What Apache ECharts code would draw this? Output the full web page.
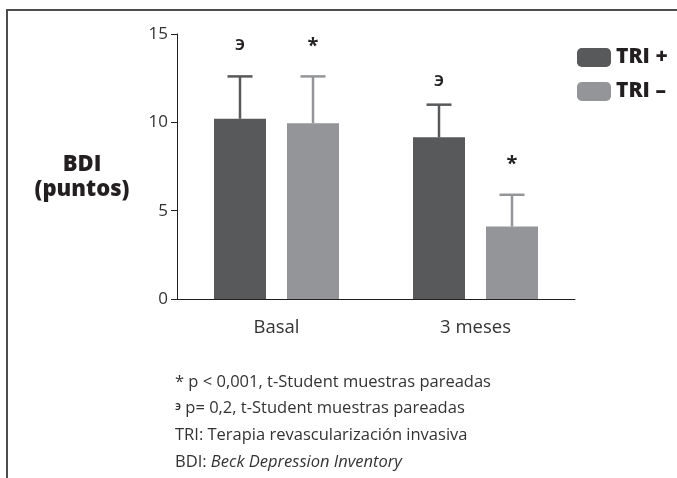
<!DOCTYPE html>
<html>
<head>
<meta charset="utf-8">
<script src="https://cdn.jsdelivr.net/npm/echarts@6/dist/echarts.min.js"></script>
<style>
html,body{margin:0;padding:0;background:#fff;}
#c{width:677px;height:478px;}
</style>
</head>
<body>
<div id="c"></div>
<script>
// ---- data ----
const categories = ['Basal', '3 meses'];
const seriesNames = ['TRI +', 'TRI –'];
const triPlus = [10.2, 9.15];
const triMinus = [9.95, 4.1];
const triPlusErr = [12.6, 11.0];
const triMinusErr = [12.6, 5.9];
const triPlusMarks = ['э', 'э'];
const triMinusMarks = ['*', '*'];
const triPlusMarkLevel = [14.4, 12.4];
const triMinusMarkLevel = [14.3, 7.6];
const yTicks = [0, 5, 10, 15];
const footnotes = [
  '{a|* p < 0,001, t-Student muestras pareadas}',
  '{s|э}{a| p= 0,2, t-Student muestras pareadas}',
  '{a|TRI: Terapia revascularización invasiva}',
  '{a|BDI: }{b|Beck Depression Inventory}'
];

// ---- style ----
const colors = ['#58595b', '#939598'];
const FONT = '"Open Sans", "Noto Sans", sans-serif';
const BAR_W = 52, BAR_GAP = 21;
const offsets = [-(BAR_W + BAR_GAP) / 2, (BAR_W + BAR_GAP) / 2];

function errSeries(vals, errs, idx) {
  return {
    type: 'custom',
    name: seriesNames[idx],
    z: 1,
    silent: true,
    data: vals.map((v, i) => [i, v, errs[i]]),
    renderItem: function (params, api) {
      const lo = api.coord([api.value(0), api.value(1)]);
      const hi = api.coord([api.value(0), api.value(2)]);
      const x = lo[0] + offsets[idx];
      const cap = 12.5;
      const st = { stroke: colors[idx], lineWidth: 2.5 };
      return {
        type: 'group',
        children: [
          { type: 'line', shape: { x1: x, y1: lo[1], x2: x, y2: hi[1] }, style: st },
          { type: 'line', shape: { x1: x - cap, y1: hi[1], x2: x + cap, y2: hi[1] }, style: st }
        ]
      };
    }
  };
}
function markSeries(marks, levels, idx) {
  return {
    type: 'custom',
    name: seriesNames[idx],
    silent: true,
    data: levels.map((v, i) => [i, v]),
    renderItem: function (params, api) {
      const p = api.coord([api.value(0), api.value(1)]);
      const m = marks[params.dataIndex];
      return {
        type: 'text',
        style: {
          x: p[0] + offsets[idx], y: p[1],
          text: m,
          fill: '#231f20',
          font: (m === '*' ? 'bold 20px ' : '600 20px ') + FONT,
          align: 'center', verticalAlign: 'middle'
        }
      };
    }
  };
}

const chart = echarts.init(document.getElementById('c'));
const rich = {
  a: { fill: '#333', font: '16.5px ' + FONT },
  b: { fill: '#333', font: 'italic 16.5px ' + FONT },
  s: { fill: '#333', font: '600 12px ' + FONT, verticalAlign: 'top', padding: [0, 0, 4, 0] }
};
const footGraphics = footnotes.map((t, i) => ({
  type: 'text', x: 175, y: 382 + i * 26.7,
  style: { text: t, rich: rich, verticalAlign: 'middle' }
}));

chart.setOption({
  animation: false,
  color: colors,
  grid: { left: 177, right: 102, top: 34, bottom: 179 },
  legend: {
    orient: 'vertical', left: 572, top: 42,
    itemWidth: 34, itemHeight: 19, itemGap: 13,
    icon: 'roundRect',
    data: seriesNames.map(n => ({ name: n, icon: 'roundRect' })),
    textStyle: { fontFamily: FONT, fontWeight: 900, fontSize: 21, color: '#231f20' },
    selectedMode: false
  },
  xAxis: {
    type: 'category', data: categories,
    axisLine: { lineStyle: { color: '#231f20', width: 1 } },
    axisTick: { alignWithLabel: true, length: 6, lineStyle: { color: '#231f20' } },
    axisLabel: { fontFamily: FONT, fontSize: 18.5, color: '#333', margin: 19 }
  },
  yAxis: {
    type: 'value', min: yTicks[0], max: yTicks[yTicks.length - 1], interval: 5,
    axisLine: { show: true, lineStyle: { color: '#231f20', width: 1 } },
    axisTick: { show: true, length: 6, lineStyle: { color: '#231f20' } },
    axisLabel: { fontFamily: FONT, fontSize: 17, color: '#333', margin: 9 },
    splitLine: { show: false }
  },
  graphic: [
    { type: 'rect', shape: { x: 7, y: 10, width: 720, height: 520 },
      style: { fill: 'none', stroke: '#4d4d4d', lineWidth: 2 }, silent: true },
    { type: 'text', x: 82, y: 165,
      style: { text: 'BDI', fill: '#231f20', font: '900 22px ' + FONT, align: 'center', verticalAlign: 'middle' } },
    { type: 'text', x: 82, y: 190,
      style: { text: '(puntos)', fill: '#231f20', font: '900 22px ' + FONT, align: 'center', verticalAlign: 'middle' } }
  ].concat(footGraphics),
  series: [
    { type: 'bar', name: seriesNames[0], data: triPlus, barWidth: BAR_W, barGap: (BAR_GAP / BAR_W * 100) + '%', z: 2 },
    { type: 'bar', name: seriesNames[1], data: triMinus, barWidth: BAR_W, z: 2 },
    errSeries(triPlus, triPlusErr, 0),
    errSeries(triMinus, triMinusErr, 1),
    markSeries(triPlusMarks, triPlusMarkLevel, 0),
    markSeries(triMinusMarks, triMinusMarkLevel, 1)
  ]
});
</script>
</body>
</html>
